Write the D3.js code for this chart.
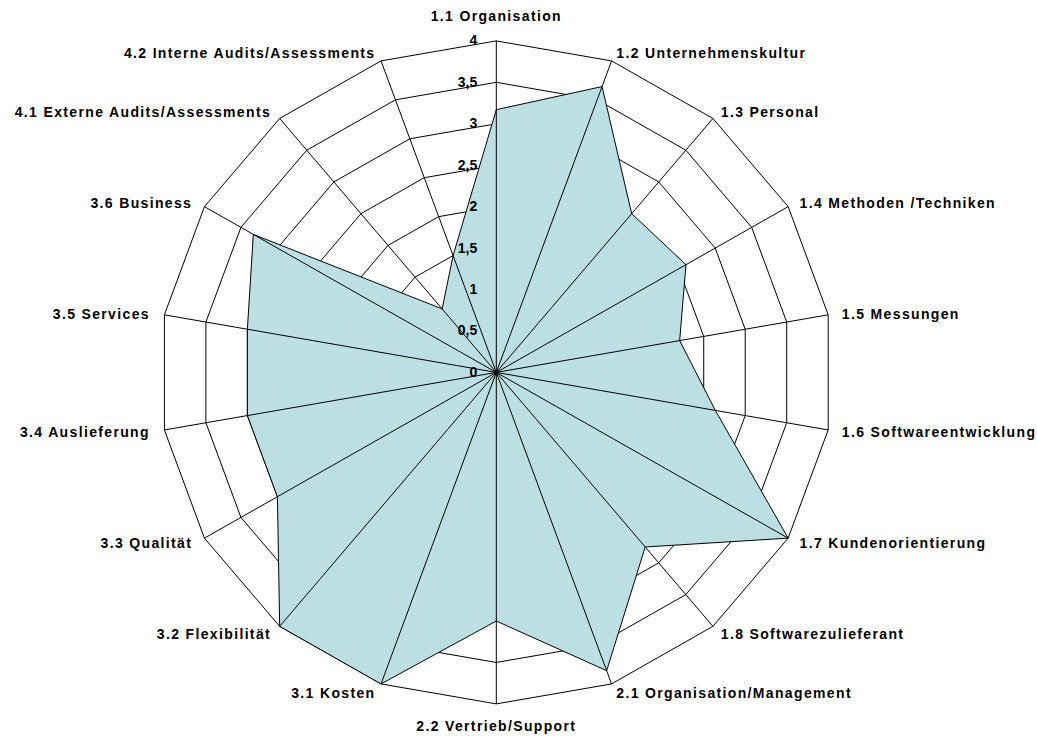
<!DOCTYPE html>
<html>
<head>
<meta charset="utf-8">
<script src="https://cdn.jsdelivr.net/npm/d3@7"></script>
<style>
  html, body { margin: 0; padding: 0; background: #fff; }
  #chart { width: 1037px; height: 736px; }
  text { font-family: "Liberation Sans", Arial, sans-serif; font-weight: bold; fill: #000; }
</style>
</head>
<body>
<div id="chart"></div>
<script>
// categories (clockwise from top)
var categories = [
    "1.1 Organisation", "1.2 Unternehmenskultur", "1.3 Personal",
    "1.4 Methoden /Techniken", "1.5 Messungen", "1.6 Softwareentwicklung",
    "1.7 Kundenorientierung", "1.8 Softwarezulieferant", "2.1 Organisation/Management",
    "2.2 Vertrieb/Support", "3.1 Kosten", "3.2 Flexibilität", "3.3 Qualität",
    "3.4 Auslieferung", "3.5 Services", "3.6 Business",
    "4.1 Externe Audits/Assessments", "4.2 Interne Audits/Assessments"
];

// series values
var values = [3.17, 3.67, 2.5, 2.6, 2.21, 2.64, 4, 2.75, 3.83, 3, 4, 4, 3, 3, 3, 3.33, 1, 1.5];

// radial axis ticks
var tickValues = [0, 0.5, 1, 1.5, 2, 2.5, 3, 3.5, 4];
var tickLabels = ["0", "0,5", "1", "1,5", "2", "2,5", "3", "3,5", "4"];

var width = 1037, height = 736;
var cx = 496.3, cy = 372.4;

var svg = d3.select("#chart").append("svg")
    .attr("width", width)
    .attr("height", height);

// picture is slightly stretched horizontally
var rx = d3.scaleLinear().domain([0, 4]).range([0, 337]);
var ry = d3.scaleLinear().domain([0, 4]).range([0, 331.5]);

var angle = d3.scalePoint()
    .domain(d3.range(categories.length + 1))
    .range([0, 2 * Math.PI]);

function px(i, v) { return cx + rx(v) * Math.sin(angle(i)); }
function py(i, v) { return cy - ry(v) * Math.cos(angle(i)); }

var line = d3.line();

// rings
svg.append("g").selectAll("path")
    .data(tickValues.slice(1))
    .enter().append("path")
    .attr("d", function(t) {
        return line(categories.map(function(c, i) { return [px(i, t), py(i, t)]; })) + "Z";
    })
    .attr("fill", "none")
    .attr("stroke", "#000")
    .attr("stroke-width", 1);

// series area
svg.append("path")
    .attr("d", line(values.map(function(v, i) { return [px(i, v), py(i, v)]; })) + "Z")
    .attr("fill", "#bbdfe3")
    .attr("stroke", "#000")
    .attr("stroke-width", 1);

// spokes drawn over the area
svg.append("g").selectAll("line")
    .data(categories)
    .enter().append("line")
    .attr("x1", cx).attr("y1", cy)
    .attr("x2", function(d, i) { return px(i, 4); })
    .attr("y2", function(d, i) { return py(i, 4); })
    .attr("stroke", "#000")
    .attr("stroke-width", 1);

// tick labels
svg.append("g").selectAll("text")
    .data(tickValues)
    .enter().append("text")
    .attr("x", cx - 19)
    .attr("y", function(t) { return cy - ry(t) + 4.5; })
    .attr("text-anchor", "end")
    .attr("font-size", "14px")
    .text(function(t, i) { return tickLabels[i]; });

// category labels
svg.append("g").selectAll("text")
    .data(categories)
    .enter().append("text")
    .attr("font-size", "14px")
    .attr("letter-spacing", "1.35px")
    .attr("text-anchor", function(d, i) {
        var s = Math.sin(angle(i));
        return Math.abs(s) < 0.01 ? "middle" : (s > 0 ? "start" : "end");
    })
    .attr("x", function(d, i) {
        var s = Math.sin(angle(i));
        var off = 3.5 + 10.5 * s * s;
        return px(i, 4) + (s > 0.01 ? off : (s < -0.01 ? -off - 0.8 : 0));
    })
    .attr("y", function(d, i) {
        var c = Math.cos(angle(i));
        var s = Math.sin(angle(i));
        if (Math.abs(s) < 0.01) return py(i, 4) + (c > 0 ? -19.5 : 27);
        return py(i, 4) + 5.5 - 9 * c;
    })
    .text(function(d) { return d; });
</script>
</body>
</html>
